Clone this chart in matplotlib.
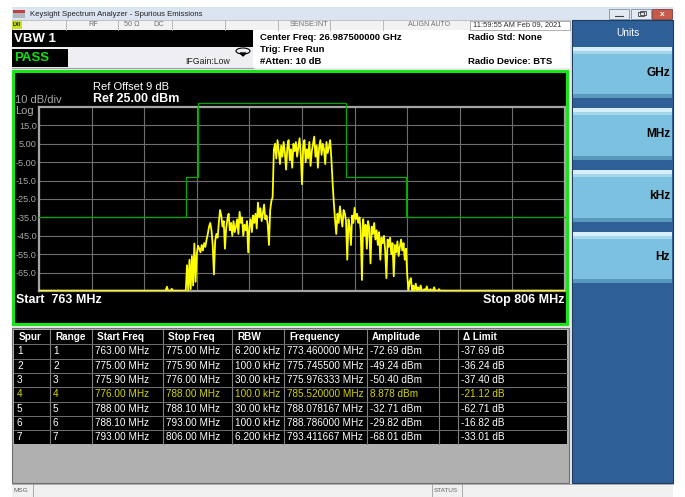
import numpy as np
import matplotlib.pyplot as plt
from matplotlib.patches import Rectangle, Ellipse, Polygon

plt.rcParams['font.family'] = ['Liberation Sans', 'DejaVu Sans']

W, H = 685, 497

# sweep / display settings
start_mhz = 763.0
stop_mhz = 806.0
ref_dbm = 25.0
bottom_dbm = -75.0
y_tick_values = [15, 5, -5, -15, -25, -35, -45, -55, -65]
y_tick_labels = ["15.0", "5.00", "-5.00", "-15.0", "-25.0", "-35.0", "-45.0", "-55.0", "-65.0"]

# limit mask, one level per range
range_start_mhz = [763.0, 775.0, 775.9, 776.0, 788.0, 788.1, 793.0]
range_stop_mhz = [775.0, 775.9, 776.0, 788.0, 788.1, 793.0, 806.0]
limit_dbm = [-35, -13, -13, 30, 30, -13, -35]

# trace (dBm)
floor_left_mhz = [763.0, 773.35, 773.46, 773.55, 773.75, 773.85, 773.95, 774.9]
floor_left_dbm = [-74.8, -74.8, -72.69, -74.8, -74.8, -73.8, -74.8, -74.8]

sweep_start_mhz = 775.0
sweep_step_mhz = 0.1
sweep_dbm = [
    -74.8,
    -61, -74.8, -58, -74, -56, -72, -49.2, -70, -55, -50.4,
    -52, -54, -50, -53, -49, -51, -47, -44, -40, -38,
    -42, -50, -66, -48, -44, -46, -38, -31, -34, -40,
    -37, -52, -41, -36, -33, -42, -38, -45, -37, -43,
    -40, -36, -44, -32, -38, -35, -45, -39, -42, -37,
    -54, -40, -36, -43, -34, -38, -33, -41, -27, -35,
    -30, -37, -33, -28, -36, -34, -39, -50, -31, -26,
    -24, 2, 5, -3, 7, 1, -6, 4, -2, 6,
    0, -9, 3, 7, -4, 2, -8, 5, 1, 6,
    -2, 3, 8, -1, -17, 4, 7, -5, 2, -3,
    6, -7, 1, 5, 8.9, -2, 4, -8, 3, 7,
    -1, 5, 2, -6, 6, 0, 3, 7, -3, -16,
    -27, -36, -44, -33, -38, -29, -35, -40, -31, -32.7,
    -37, -58, -36, -40, -50, -34, -38, -29.8, -36, -33,
    -38, -35, -42, -69, -36, -45, -39, -52, -37, -41,
    -60, -40, -44, -38, -47, -42, -50, -43, -58, -46,
    -49, -45, -53, -68, -47, -51, -46, -55, -49, -67,
    -50, -54, -48, -56, -51, -47, -53, -49, -58, -52,
    -66, -74.8, -70, -68, -74.8, -72, -74.8, -71, -74.8, -73,
    -74.8, -72, -74.8, -74.8, -74, -74.8, -72.5, -74.8, -74.8, -74,
    -74.8, -74.8, -73, -74.8, -74.8, -74.8, -74, -74.8, -74.8, -74.8,
]

floor_right_mhz = [796.2, 806.0]
floor_right_dbm = [-74.8, -74.8]

# result table
spur_no = ["1", "2", "3", "4", "5", "6", "7"]
range_no = ["1", "2", "3", "4", "5", "6", "7"]
start_freq = ["763.00 MHz", "775.00 MHz", "775.90 MHz", "776.00 MHz", "788.00 MHz", "788.10 MHz", "793.00 MHz"]
stop_freq = ["775.00 MHz", "775.90 MHz", "776.00 MHz", "788.00 MHz", "788.10 MHz", "793.00 MHz", "806.00 MHz"]
rbw = ["6.200 kHz", "100.0 kHz", "30.00 kHz", "100.0 kHz", "30.00 kHz", "100.0 kHz", "6.200 kHz"]
spur_freq = ["773.460000 MHz", "775.745500 MHz", "775.976333 MHz", "785.520000 MHz",
             "788.078167 MHz", "788.786000 MHz", "793.411667 MHz"]
amplitude = ["-72.69 dBm", "-49.24 dBm", "-50.40 dBm", "8.878 dBm", "-32.71 dBm", "-29.82 dBm", "-68.01 dBm"]
delta_limit = ["-37.69 dB", "-36.24 dB", "-37.40 dB", "-21.12 dB", "-62.71 dB", "-16.82 dB", "-33.01 dB"]
highlight_row = 3
headers = ["Spur", "Range", "Start Freq", "Stop Freq", "RBW", "Frequency", "Amplitude", "", "\u0394 Limit"]

fig = plt.figure(figsize=(W / 100, H / 100), dpi=100)
bg = fig.add_axes([0, 0, 1, 1])
bg.set_xlim(0, W)
bg.set_ylim(H, 0)
bg.axis('off')


def box(x0, y0, x1, y1, fc, ec='none', lw=0.0, z=1):
    bg.add_patch(Rectangle((x0, y0), x1 - x0, y1 - y0, facecolor=fc,
                           edgecolor=ec, linewidth=lw, zorder=z))


def label(x, y, s, size, color='black', weight='normal', ha='left', z=5):
    bg.text(x, y, s, fontsize=size, color=color, fontweight=weight,
            ha=ha, va='center', zorder=z)


# window body
box(12, 7, 673, 497, '#e8e8ea')

# title bar
box(12, 7, 673, 20, '#dbe5f1')
box(13, 10, 25, 18, '#b0b8c0')
box(13, 10, 25, 13, '#c04040')
label(30, 14, "Keysight Spectrum Analyzer - Spurious Emissions", 5.6, '#202020')
box(609, 9, 629, 19, '#e4eaf2', '#8090a8', 0.6)
box(631, 9, 651, 19, '#e4eaf2', '#8090a8', 0.6)
box(652, 9, 672, 19, '#c85a4a', '#804040', 0.6)
bg.plot([615, 623], [15.5, 15.5], color='#404040', lw=0.8, zorder=5)
# restore-window icon
box(638, 12, 644, 16, 'none', '#404040', 0.6, z=5)
box(640, 11, 646, 15, '#e4eaf2', '#404040', 0.6, z=4)
label(662, 14, "x", 6, 'white', 'bold', ha='center')

# status row
box(12, 20, 570, 30, '#f2f2f2', '#b0b0b0', 0.5)
for xs in [66, 118, 172, 225, 278, 330, 383, 470]:
    bg.plot([xs, xs], [20, 30], color='#b0b0b0', lw=0.6, zorder=3)
box(470, 20.5, 570, 29.5, 'white', '#909090', 0.5, z=2)
box(12.5, 21, 22, 29, '#c8e020')
label(13, 25, "LXI", 3.6, 'black', 'bold')
label(88, 25, "RF", 5.3, '#707070')
label(124, 25, "50 \u03a9", 5.3, '#707070')
label(153, 25, "DC", 5.3, '#707070')
label(290, 25, "SENSE:INT", 5.3, '#707070')
label(408, 25, "ALIGN AUTO", 5.0, '#707070')
label(473, 25, "11:59:55 AM Feb 09, 2021", 5.4, '#303030')

# VBW / PASS / settings area
box(253, 30, 570, 68, 'white')
box(12, 30, 253, 47, 'black')
label(14, 39, "VBW 1", 9.5, 'white', 'bold')
box(12, 47, 253, 68, '#efeef2')
box(12, 49, 68, 67, 'black')
label(14, 58, "PASS", 9.5, '#12e012', 'bold')
bg.plot([12, 253], [67.5, 67.5], color='#a0a0a0', lw=0.8, zorder=3)
label(185, 62, "IFGain:Low", 6.3, '#202020')
bg.add_patch(Ellipse((243, 51), 14, 6, fill=False, edgecolor='black', lw=0.8, zorder=4))
bg.add_patch(Polygon([[240, 53], [246, 53], [243, 56]], closed=True, color='black', zorder=4))
label(260, 37, "Center Freq: 26.987500000 GHz", 6.8, 'black', 'bold')
label(260, 49, "Trig: Free Run", 6.8, 'black', 'bold')
label(260, 61, "#Atten: 10 dB", 6.8, 'black', 'bold')
label(468, 37, "Radio Std: None", 6.8, 'black', 'bold')
label(468, 61, "Radio Device: BTS", 6.8, 'black', 'bold')

# plot panel
box(13.5, 70.5, 567.5, 323.5, 'black', '#16e616', 2.2, z=2)
label(93, 87, "Ref Offset 9 dB", 8.0, 'white')
label(93, 99, "Ref 25.00 dBm", 9.0, 'white', 'bold')
label(15, 100, "10 dB/div", 8.0, '#a8a8a8')
label(15, 111, "Log", 8.0, '#a8a8a8')
label(16, 300, "Start  763 MHz", 9.0, 'white', 'bold')
label(565, 300, "Stop 806 MHz", 9.0, 'white', 'bold', ha='right')

# result table
box(12, 328, 569, 483, '#b0b0b0', '#707070', 0.8)
col_x = [14, 50, 92, 163, 232, 284, 367, 439, 458, 567]
row_top = 330
row_h = 14.3
n_rows = len(spur_no)
table_bottom = row_top + row_h * (n_rows + 1)
box(col_x[0], row_top, col_x[-1], table_bottom, 'black', z=2)
for xs in col_x[1:-1]:
    bg.plot([xs, xs], [row_top, table_bottom], color='#808080', lw=0.8, zorder=3)
for r in range(1, n_rows + 1):
    yy = row_top + r * row_h
    bg.plot([col_x[0], col_x[-1]], [yy, yy], color='#707070', lw=0.7, zorder=3)
for c, head in enumerate(headers):
    label(col_x[c] + 5, row_top + row_h / 2, head, 7.2, 'white', 'bold')
columns = [spur_no, range_no, start_freq, stop_freq, rbw, spur_freq, amplitude, None, delta_limit]
for r in range(n_rows):
    yc = row_top + (r + 1.5) * row_h
    color = '#d4d400' if r == highlight_row else 'white'
    for c, col in enumerate(columns):
        if col is None:
            continue
        label(col_x[c] + 3, yc, col[r], 7.2, color)

# bottom status bar
box(12, 484, 673, 497, '#f0f0f0')
bg.plot([12, 673], [484, 484], color='#a0a0a0', lw=0.6, zorder=3)
for xs in [33, 432, 462]:
    bg.plot([xs, xs], [484, 497], color='#a0a0a0', lw=0.6, zorder=3)
label(14, 491, "MSG", 4.6, '#606060')
label(434, 491, "STATUS", 4.6, '#606060')

# softkey panel
box(572, 20, 673, 483, '#2f5f97', '#1c3c60', 0.8)
label(616, 33, "Units", 7.3, 'white')
for (y0, y1), key in zip([(47, 98), (108, 160), (170, 222), (232, 283)], ["GHz", "MHz", "kHz", "Hz"]):
    box(573, y0, 672, y1, '#7cc2e0', z=2)
    box(573, y0, 672, y0 + 4, '#d6eff8', z=3)
    box(573, y0 + 4, 672, y0 + 7, '#a4d6ec', z=3)
    box(573, y1 - 4, 672, y1, '#5898bc', z=3)
    label(670, (y0 + y1) / 2, key, 8.6, 'black', 'bold', ha='right')

# graticule and trace
ax = fig.add_axes([39 / W, 1 - 291 / H, 526 / W, 184 / H])
ax.set_facecolor('black')
ax.set_xlim(start_mhz, stop_mhz)
ax.set_ylim(bottom_dbm, ref_dbm)
ax.set_xticks(np.linspace(start_mhz, stop_mhz, 11))
ax.set_xticklabels([])
ax.set_yticks(y_tick_values)
ax.set_yticklabels(y_tick_labels)
ax.tick_params(length=0, labelsize=6.6, labelcolor='#a8a8a8', pad=1.5)
ax.grid(color='#6e6e6e', lw=0.8)
for sp in ax.spines.values():
    sp.set_color('#a4a4a4')
    sp.set_linewidth(1.6)

# limit line (clipped to just above the graticule, like the instrument)
lim_x, lim_y = [], []
for a, b, v in zip(range_start_mhz, range_stop_mhz, limit_dbm):
    lim_x += [a, b]
    lim_y += [v, v]
lim_y = np.minimum(lim_y, ref_dbm + 2.2)
ax.plot(lim_x, lim_y, color='#00a800', lw=0.9, clip_on=False, zorder=3)

sweep_mhz = sweep_start_mhz + sweep_step_mhz * np.arange(len(sweep_dbm))
trace_mhz = np.concatenate([floor_left_mhz, sweep_mhz, floor_right_mhz])
trace_dbm = np.concatenate([floor_left_dbm, sweep_dbm, floor_right_dbm])
ax.plot(trace_mhz, trace_dbm, color='#ffff00', lw=1.3, zorder=4)

fig.savefig('out.png', dpi=100, facecolor='white')
